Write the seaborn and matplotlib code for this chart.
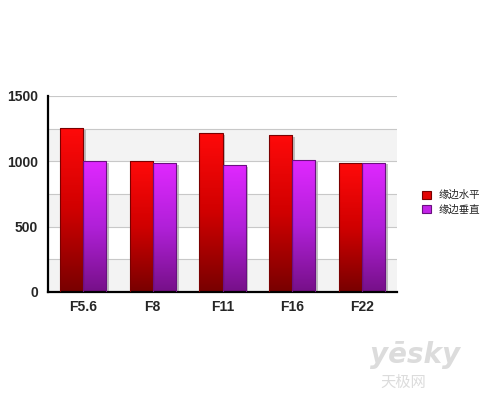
import numpy as np
import pandas as pd
import seaborn as sns
import matplotlib.pyplot as plt
from matplotlib.colors import LinearSegmentedColormap

# values
apertures = ['F5.6', 'F8', 'F11', 'F16', 'F22']
horizontal = [1255, 1000, 1218, 1202, 985]
vertical = [1000, 983, 970, 1008, 990]
series_names = ['缘边水平', '缘边垂直']

df = pd.DataFrame({
    'aperture': apertures * 2,
    'value': horizontal + vertical,
    'series': [series_names[0]] * 5 + [series_names[1]] * 5,
})

sns.set_style('white')
plt.rcParams['font.family'] = ['Noto Sans CJK SC', 'DejaVu Sans']

fig = plt.figure(figsize=(5, 4.01), dpi=100)
ax = fig.add_axes([0.096, 0.272, 0.698, 0.489])

# alternating background bands
for k in range(6):
    if k % 2 == 0:
        ax.axhspan(k * 250, (k + 1) * 250, color='#f3f3f3', zorder=0, lw=0)
for y in range(250, 1501, 250):
    ax.axhline(y, color='#c8c8c8', lw=0.8, zorder=0.5)

palette = ['#e00000', '#c020e0']
sns.barplot(data=df, x='aperture', y='value', hue='series', palette=palette,
            width=0.66, gap=0, ax=ax, saturation=1, zorder=2,
            edgecolor='none', legend=False)

# gradient fills
grads = [LinearSegmentedColormap.from_list('r', ['#780000', '#d00000', '#ff0a0a']),
         LinearSegmentedColormap.from_list('p', ['#761088', '#b020d8', '#e028ff'])]
edges = ['#7a0000', '#6a1080']
grad = np.linspace(0, 1, 256).reshape(-1, 1)
for i, container in enumerate(ax.containers):
    for bar in container:
        x0, y0 = bar.get_x(), bar.get_y()
        w, h = bar.get_width(), bar.get_height()
        # shadow
        ax.add_patch(plt.Rectangle((x0 + 0.04, y0), w, h - 15, color='#a8a8a8',
                                   alpha=0.7, zorder=1.5, lw=0))
        im = ax.imshow(grad, cmap=grads[i], aspect='auto', origin='lower',
                       extent=[x0, x0 + w, y0, y0 + h], zorder=2.5)
        im.set_clip_path(bar)
        bar.set_facecolor('none')
        bar.set_edgecolor(edges[i])
        bar.set_linewidth(0.8)
        bar.set_zorder(3)

ax.set_xlim(-0.5, 4.5)
ax.set_ylim(0, 1500)
ax.set_yticks([0, 500, 1000, 1500])
ax.set_xticks(range(5))
ax.set_xticklabels(apertures)
ax.set_xticks(np.arange(-0.5, 5, 1), minor=True)
ax.tick_params(axis='x', which='major', length=0, pad=6)
ax.tick_params(axis='x', which='minor', length=5, width=1.5, direction='out', color='black')
ax.tick_params(axis='y', length=5, width=1.5, direction='out', color='black', pad=2)
for lab in ax.get_xticklabels() + ax.get_yticklabels():
    lab.set_family('Liberation Sans')
    lab.set_fontweight('bold')
    lab.set_fontsize(10)
ax.set_xlabel('')
ax.set_ylabel('')
for s in ['top', 'right']:
    ax.spines[s].set_visible(False)
for s in ['left', 'bottom']:
    ax.spines[s].set_color('black')
    ax.spines[s].set_linewidth(1.6)

# legend
handles = [plt.Rectangle((0, 0), 1, 1, facecolor=grads[i](0.7), edgecolor=edges[i], lw=0.8)
           for i in range(2)]
fig.legend(handles, series_names, loc='center left', bbox_to_anchor=(0.826, 0.495),
           frameon=False, fontsize=7.5, handlelength=0.8, handleheight=0.8,
           handletextpad=0.8, labelspacing=0.45)

# watermark
fig.text(0.74, 0.095, 'yēsky', fontsize=20, color='#dcdcdc', fontweight='bold',
         family='DejaVu Sans', style='italic')
fig.text(0.76, 0.035, '天极网', fontsize=11, color='#dcdcdc')

plt.savefig('out.png', dpi=100)
